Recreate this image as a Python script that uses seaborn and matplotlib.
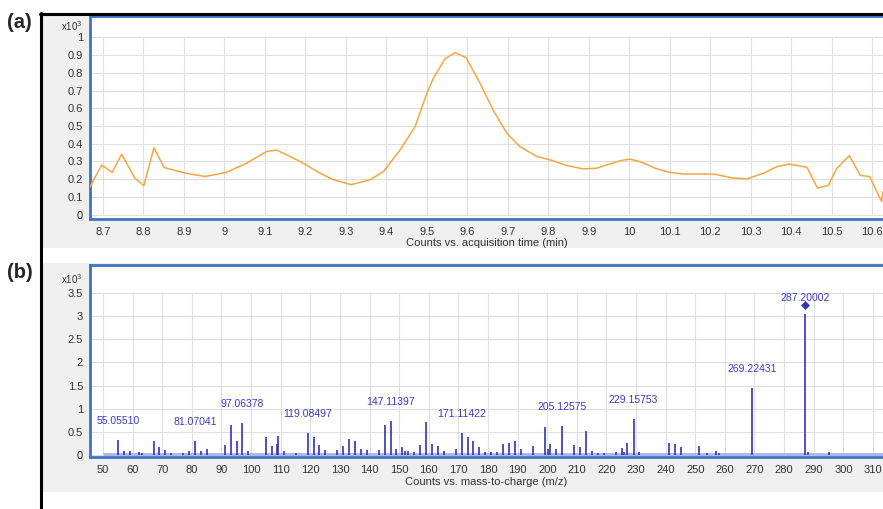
import matplotlib
matplotlib.use("Agg")
import matplotlib.pyplot as plt
from matplotlib.patches import Rectangle
from matplotlib.lines import Line2D
from matplotlib.transforms import ScaledTranslation
import numpy as np
import pandas as pd
import seaborn as sns

# ---------------- data ----------------
# (a) extracted ion chromatogram, counts x10^3
eic_time = [8.668, 8.697, 8.723, 8.746, 8.779, 8.801, 8.826, 8.851, 8.903, 8.952,
            9.004, 9.055, 9.104, 9.129, 9.187, 9.236, 9.269, 9.313, 9.360, 9.393,
            9.434, 9.471, 9.500, 9.516, 9.545, 9.570, 9.597, 9.632, 9.664, 9.698,
            9.730, 9.772, 9.805, 9.846, 9.887, 9.920, 9.945, 9.978, 10.002, 10.031,
            10.064, 10.097, 10.134, 10.208, 10.258, 10.291, 10.332, 10.365, 10.394, 10.439,
            10.465, 10.492, 10.513, 10.544, 10.571, 10.594, 10.623, 10.627]
eic_counts = [0.157, 0.280, 0.238, 0.341, 0.206, 0.163, 0.378, 0.266, 0.234, 0.215,
              0.238, 0.290, 0.356, 0.365, 0.300, 0.234, 0.197, 0.169, 0.197, 0.243,
              0.365, 0.496, 0.684, 0.768, 0.880, 0.914, 0.886, 0.740, 0.590, 0.459,
              0.384, 0.328, 0.309, 0.277, 0.258, 0.262, 0.281, 0.305, 0.313, 0.296,
              0.262, 0.240, 0.229, 0.229, 0.206, 0.202, 0.234, 0.271, 0.285, 0.268,
              0.150, 0.165, 0.262, 0.333, 0.221, 0.215, 0.075, 0.130]

# (b) mass spectrum, counts x10^3
ms_mz = [55.06, 57.07, 59.05, 62.0, 63.0, 67.05, 69.07, 71.09, 73.0, 77.04,
         79.05, 81.07, 83.09, 85.1, 91.05, 93.07, 95.09, 97.06, 99.0, 105.07,
         107.09, 108.7, 109.1, 111.0, 115.0, 119.08, 121.1, 123.1, 125.1, 129.1,
         131.1, 133.1, 135.1, 137.1, 139.1, 143.1, 145.1, 147.11, 149.1, 151.1,
         152.1, 153.1, 155.1, 157.1, 159.1, 161.1, 163.1, 165.1, 169.1, 171.11,
         173.1, 175.1, 177.1, 179.1, 181.1, 183.1, 185.1, 187.1, 189.1, 191.1,
         195.1, 199.1, 200.1, 201.1, 203.1, 205.13, 209.1, 211.1, 213.1, 215.1,
         217.1, 219.1, 223.1, 225.1, 226.1, 227.1, 229.16, 231.1, 241.1, 243.1,
         245.1, 251.1, 254.1, 257.1, 258.1, 269.22, 287.20, 288.2, 295.0]
ms_counts = [0.32, 0.10, 0.10, 0.06, 0.05, 0.30, 0.17, 0.12, 0.05, 0.04,
             0.09, 0.30, 0.08, 0.14, 0.22, 0.64, 0.30, 0.70, 0.09, 0.40,
             0.19, 0.24, 0.42, 0.08, 0.05, 0.475, 0.39, 0.22, 0.12, 0.12,
             0.20, 0.35, 0.30, 0.14, 0.12, 0.12, 0.64, 0.73, 0.14, 0.17,
             0.09, 0.09, 0.06, 0.22, 0.71, 0.24, 0.19, 0.09, 0.14, 0.475,
             0.39, 0.30, 0.18, 0.07, 0.06, 0.06, 0.24, 0.27, 0.30, 0.14,
             0.20, 0.60, 0.13, 0.24, 0.14, 0.62, 0.22, 0.17, 0.52, 0.08,
             0.04, 0.04, 0.06, 0.16, 0.07, 0.27, 0.77, 0.06, 0.27, 0.25,
             0.17, 0.20, 0.04, 0.09, 0.05, 1.45, 3.05, 0.06, 0.07]
ms_noise_start = 50.0
ms_noise_level = 0.02

label_mz = [55.06, 81.07, 97.06, 119.08, 147.11, 171.11, 205.13, 229.16, 269.22, 287.20]
label_text = ["55.05510", "81.07041", "97.06378", "119.08497", "147.11397",
              "171.11422", "205.12575", "229.15753", "269.22431", "287.20002"]

eic_xticks = [8.7, 8.8, 8.9, 9.0, 9.1, 9.2, 9.3, 9.4, 9.5, 9.6, 9.7, 9.8, 9.9,
              10.0, 10.1, 10.2, 10.3, 10.4, 10.5, 10.6]
eic_xticklabels = ["8.7", "8.8", "8.9", "9", "9.1", "9.2", "9.3", "9.4", "9.5", "9.6",
                   "9.7", "9.8", "9.9", "10", "10.1", "10.2", "10.3", "10.4", "10.5", "10.6"]
eic_yticks = [0, 0.1, 0.2, 0.3, 0.4, 0.5, 0.6, 0.7, 0.8, 0.9, 1.0]
eic_yticklabels = ["0", "0.1", "0.2", "0.3", "0.4", "0.5", "0.6", "0.7", "0.8", "0.9", "1"]
ms_xticks = list(range(50, 311, 10))
ms_yticks = [0, 0.5, 1, 1.5, 2, 2.5, 3, 3.5]
ms_yticklabels = ["0", "0.5", "1", "1.5", "2", "2.5", "3", "3.5"]

eic_xlabel = "Counts vs. acquisition time (min)"
ms_xlabel = "Counts vs. mass-to-charge (m/z)"

# ---------------- style ----------------
sns.set_style("white")
plt.rcParams["font.family"] = ["Liberation Sans Narrow", "Liberation Sans", "DejaVu Sans"]

W, H = 883, 509
fig = plt.figure(figsize=(W / 100, H / 100), dpi=100)
fig.patch.set_facecolor("white")

def fx(px):
    return px / W

def fy(py):
    return 1 - py / H

GREY = "#efefef"
BLUE = "#3f72c6"
ORANGE = "#f5a640"
BARBLUE = "#3434b4"
LABBLUE = "#3a3ac8"
TXT = "#333333"

# grey panel backgrounds
fig.patches.append(Rectangle((fx(42), fy(248)), fx(883 - 42), (248 - 15) / H,
                             transform=fig.transFigure, facecolor=GREY,
                             edgecolor="none", zorder=-10))
fig.patches.append(Rectangle((fx(42), fy(492)), fx(883 - 42), (492 - 263) / H,
                             transform=fig.transFigure, facecolor=GREY,
                             edgecolor="none", zorder=-10))

# black frame lines
fig.add_artist(Line2D([fx(41), fx(41)], [0, fy(12.5)], color="black", lw=2.2,
                      transform=fig.transFigure, zorder=5))
fig.add_artist(Line2D([fx(40), 1.0], [fy(13.5), fy(13.5)], color="black", lw=2.2,
                      transform=fig.transFigure, zorder=5))

ax1 = fig.add_axes([fx(90), fy(218.5), fx(883 - 90), (218.5 - 15.5) / H])
ax2 = fig.add_axes([fx(90), fy(457), fx(883 - 90), (457 - 265) / H])

def style_axes(ax, xt, yt, xtl, ytl):
    ax.set_facecolor("white")
    for s in ["top", "left", "bottom"]:
        ax.spines[s].set_visible(True)
        ax.spines[s].set_color(BLUE)
        ax.spines[s].set_linewidth(2.0)
    ax.spines["right"].set_visible(False)
    ax.set_xticks(xt)
    ax.set_xticklabels(xtl)
    ax.set_yticks(yt)
    ax.set_yticklabels(ytl)
    ax.tick_params(axis="both", direction="out", length=3, width=0.8,
                   color="#555555", labelsize=8, labelcolor=TXT, pad=2)
    ax.tick_params(axis="x", pad=3)
    xlo, xhi = ax.get_xlim()
    ax.hlines(yt, xlo, xhi, color="#dedede", lw=0.8, zorder=0)
    ax.vlines(xt, yt[0], yt[-1], color="#dedede", lw=0.8, zorder=0)
    ax.set_xlim(xlo, xhi)

# ---------------- (a) chromatogram ----------------
eic_df = pd.DataFrame({"time": eic_time, "counts": eic_counts})
ax1.set_xlim(8.668, 10.627)
ax1.set_ylim(-0.022, 1.124)
sns.lineplot(data=eic_df, x="time", y="counts", ax=ax1, color=ORANGE, lw=1.1,
             sort=False, zorder=3)
style_axes(ax1, eic_xticks, eic_yticks, eic_xticklabels, eic_yticklabels)
ax1.set_xlabel(eic_xlabel, fontsize=8, color=TXT, labelpad=1)
ax1.set_ylabel("")

# ---------------- (b) mass spectrum ----------------
ms_df = pd.DataFrame({"mz": ms_mz, "counts": ms_counts})
ax2.set_xlim(45.6, 313.4)
ax2.set_ylim(-0.04, 4.1)
ax2.plot([ms_noise_start, 313.4], [ms_noise_level, ms_noise_level], color="#a9b4ea",
         lw=2.0, solid_capstyle="butt", zorder=2)
ax2.vlines(ms_df["mz"], 0, ms_df["counts"], color=BARBLUE, lw=1.2, zorder=3)
style_axes(ax2, ms_xticks, ms_yticks, [str(v) for v in ms_xticks], ms_yticklabels)

base_idx = int(np.argmax(ms_counts))
base_mz, base_h = ms_mz[base_idx], ms_counts[base_idx]
trans_d = ax2.transData + ScaledTranslation(0, 6 / 72, fig.dpi_scale_trans)
sns.scatterplot(x=[base_mz], y=[base_h], ax=ax2, marker="D", s=18, color=BARBLUE,
                edgecolor=BARBLUE, zorder=4, transform=trans_d, legend=False)
ax2.set_xlabel(ms_xlabel, fontsize=8, color=TXT, labelpad=1)
ax2.set_ylabel("")

for m, t in zip(label_mz, label_text):
    h = ms_counts[ms_mz.index(m)]
    off = 11 if m == base_mz else 13.7
    ax2.annotate(t, xy=(m, h), xytext=(0, off), textcoords="offset points",
                 ha="center", va="center", fontsize=7.5, color=LABBLUE, zorder=5)

# multiplier labels
for py in [26, 279]:
    fig.text(fx(83), fy(py), r"x10$^{3}$", ha="right", va="center", fontsize=7,
             color=TXT)

# panel labels
fig.text(fx(7), fy(22), "(a)", fontsize=14.5, fontweight="bold", va="center", ha="left",
         family=["Liberation Sans", "DejaVu Sans"])
fig.text(fx(7), fy(272), "(b)", fontsize=14.5, fontweight="bold", va="center", ha="left",
         family=["Liberation Sans", "DejaVu Sans"])

fig.savefig("out.png", dpi=100, facecolor="white")
